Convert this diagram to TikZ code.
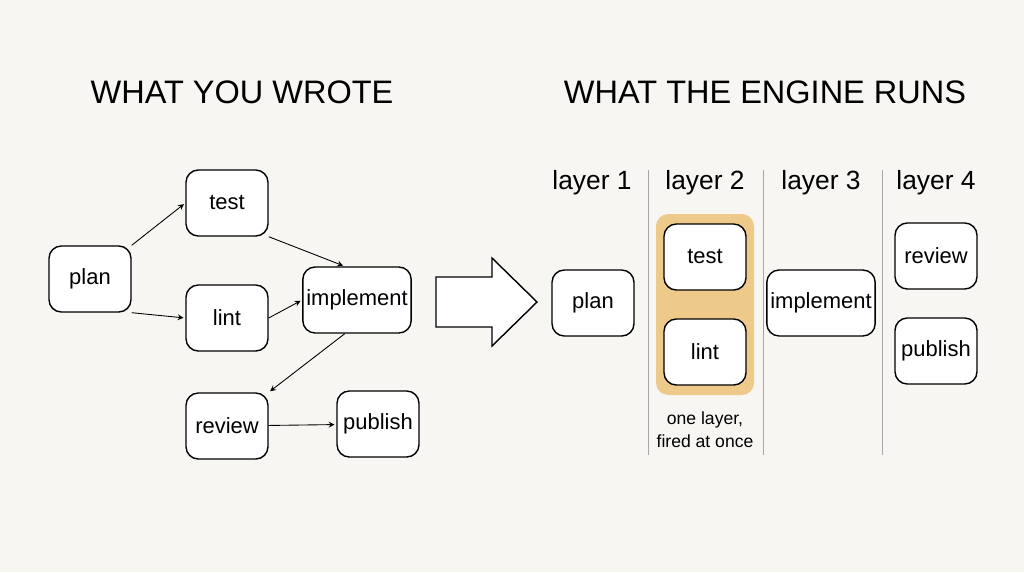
\documentclass[tikz,border=0pt]{standalone}
\usepackage{fontspec}
\setmainfont{Liberation Sans}
\usetikzlibrary{positioning,backgrounds}
\definecolor{paper}{HTML}{F7F6F2}
\definecolor{band}{HTML}{EDC98A}
\tikzset{font=\fontsize{12.5}{15}\selectfont}
\tikzstyle{job}=[draw,rounded corners=7pt,fill=white,line width=0.8pt,minimum width=1.64cm,minimum height=1.32cm,inner sep=2pt]
\tikzstyle{widejob}=[job,minimum width=2.08cm]
\tikzstyle{title}=[font=\fontsize{18.5}{22}\selectfont]
\tikzset{every picture/.style={line width=0.5pt}}

\begin{document}
\begin{tikzpicture}[x=0.02cm,y=-0.02cm]
\fill[paper] (0,0) rectangle (1024,572);
\node[title] (L) at (242,92) {WHAT YOU WROTE};
\node[title] (R) at (765,92) {WHAT THE ENGINE RUNS};
% what you wrote
\node[job] (plan) at (90,279) {plan};
\node[job] (test) at (227,203) {test};
\node[job] (lint) at (227,318) {lint};
\node[widejob] (impl) at (357,300) {implement};
\node[job] (review) at (227,426) {review};
\node[job] (publish) at (378,424) {publish};
\path[->,>=stealth,shorten >=1pt]
(plan.north east) edge (test.west)
(plan.south east) edge (lint.west)
(test.south east) edge (impl.110)
(lint.east) edge (impl.west)
(impl.-110) edge (review.north east)
(review) edge (publish);
% big arrow
\draw[fill=white,line width=0.8pt] (436,277) -- (492,277) -- (492,258) -- (537,302)
 -- (492,346) -- (492,327) -- (436,327) -- cycle;
% what the engine runs
\foreach \x/\n in {592/1,705/2,821/3,936/4}
 \node (h\n) at (\x,183) {\fontsize{15}{18}\selectfont layer \n};
\foreach \x in {648,763,882}
 \draw[gray!70] (\x,170) -- (\x,455);
\fill[band,rounded corners=7pt] (656,214) rectangle (754,395);
\node[job] (plan2) at (593,303) {plan};
\node[job] (test2) at (705,257) {test};
\node[job] (lint2) at (705,352) {lint};
\node[widejob] (impl2) at (821,303) {implement};
\node[job] (review2) at (936,256) {review};
\node[job] (publish2) at (936,351) {publish};
\node[align=center,font=\fontsize{10}{13}\selectfont] (note) at (705,430) {one layer,\\fired at once};
\end{tikzpicture}
\end{document}
